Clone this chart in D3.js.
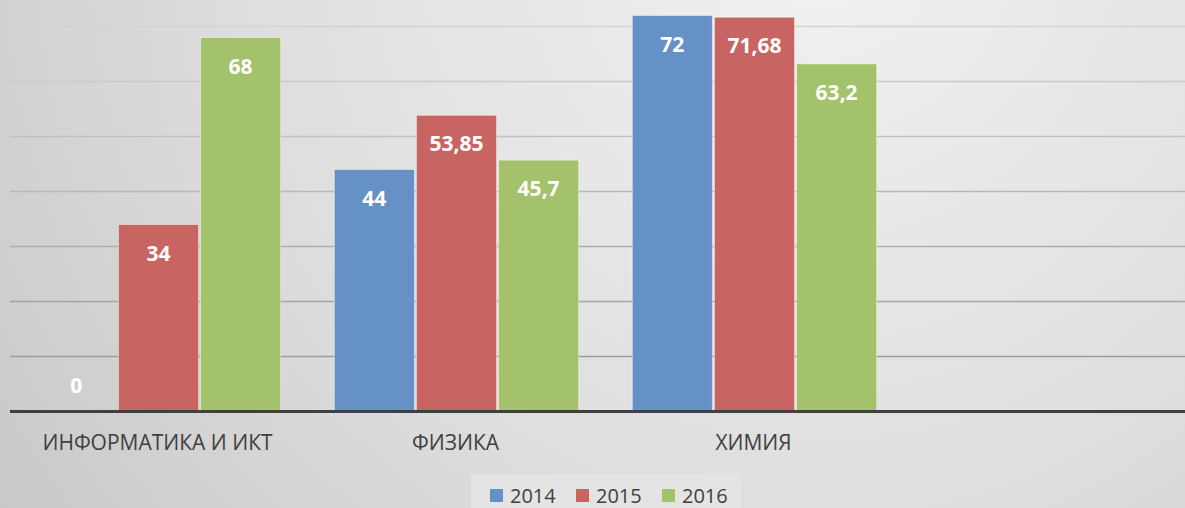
<!DOCTYPE html>
<html lang="ru">
<head>
<meta charset="UTF-8">
<title>Результаты 2014-2016</title>
<style>
  body { margin: 0; background: #d8d8d8; overflow: hidden; }
  svg { display: block; font-family: "Open Sans", Arial, sans-serif; }
</style>
<script src="https://d3js.org/d3.v7.min.js"></script>
</head>
<body>
<div id="chart"></div>
<script>
// data
const categories = ["ИНФОРМАТИКА И ИКТ", "ФИЗИКА", "ХИМИЯ", ""];
const years = ["2014", "2015", "2016"];
const values2014 = [0, 44, 72, null];
const values2015 = [34, 53.85, 71.68, null];
const values2016 = [68, 45.7, 63.2, null];
const gridTicks = [10, 20, 30, 40, 50, 60, 70];
const colors = ["#6591c7", "#c86462", "#a4c16b"];

const series = [values2014, values2015, values2016];
const W = 1185, H = 508;

const svg = d3.select("#chart").append("svg")
    .attr("width", W).attr("height", H);

// background
const defs = svg.append("defs");
const bg = defs.append("radialGradient")
    .attr("id", "bg").attr("gradientUnits", "userSpaceOnUse")
    .attr("cx", 820).attr("cy", -60).attr("r", 1050);
bg.append("stop").attr("offset", "0%").attr("stop-color", "#f2f2f2");
bg.append("stop").attr("offset", "55%").attr("stop-color", "#dedede");
bg.append("stop").attr("offset", "100%").attr("stop-color", "#c6c6c6");
svg.append("rect").attr("width", W).attr("height", H).attr("fill", "url(#bg)");

// scales
const x0 = d3.scaleBand().domain(d3.range(categories.length))
    .range([9.5, 1201.5]).paddingInner(0.18).paddingOuter(0.09);
const x1 = d3.scaleBand().domain(d3.range(years.length))
    .range([0, x0.bandwidth()]).paddingInner(0.025);
const y = d3.scaleLinear().domain([0, 80]).range([411.5, -28.5]);

// gridlines
const gridColor = d3.scaleLinear().domain([10, 70]).range(["#9c9c9c", "#d3d3d3"]);
svg.append("g").selectAll("line").data(gridTicks).join("line")
    .attr("x1", 10).attr("x2", W)
    .attr("y1", d => y(d)).attr("y2", d => y(d))
    .attr("stroke", d => gridColor(d)).attr("stroke-width", 1.5);

// bars
const groups = svg.append("g").selectAll("g")
    .data(categories.map((c, i) => i).filter(i => categories[i] !== ""))
    .join("g")
    .attr("transform", i => `translate(${x0(i)},0)`);

groups.selectAll("rect")
    .data(i => series.map((s, k) => ({ k, v: s[i] })))
    .join("rect")
    .attr("x", d => x1(d.k))
    .attr("width", x1.bandwidth())
    .attr("y", d => y(d.v))
    .attr("height", d => y(0) - y(d.v))
    .attr("fill", d => colors[d.k])
    .attr("stroke", "rgba(255,255,255,0.45)")
    .attr("stroke-width", 1);

groups.selectAll("text")
    .data(i => series.map((s, k) => ({ k, v: s[i] })))
    .join("text")
    .attr("x", d => x1(d.k) + x1.bandwidth() / 2)
    .attr("y", d => d.v === 0 ? y(0) - 19 : y(d.v) + 36)
    .attr("text-anchor", "middle")
    .attr("fill", "#fff")
    .attr("font-weight", "bold")
    .attr("font-size", 21)
    .text(d => String(d.v).replace(".", ","));

// baseline
svg.append("line")
    .attr("x1", 10).attr("x2", W)
    .attr("y1", y(0)).attr("y2", y(0))
    .attr("stroke", "#404040").attr("stroke-width", 3);

// category labels
svg.append("g").selectAll("text").data(categories).join("text")
    .attr("x", (d, i) => x0(i) + x0.bandwidth() / 2 - 1)
    .attr("y", 450)
    .attr("text-anchor", "middle")
    .attr("fill", "#404040")
    .attr("font-size", 21)
    .text(d => d);

// legend
svg.append("rect").attr("x", 471).attr("y", 474).attr("width", 270).attr("height", 40)
    .attr("fill", "#e4e4e4");
const leg = svg.append("g").selectAll("g").data(years).join("g")
    .attr("transform", (d, i) => `translate(${490 + i * 86},489)`);
leg.append("rect").attr("width", 13).attr("height", 13)
    .attr("fill", (d, i) => colors[i]);
leg.append("text").attr("x", 20).attr("y", 14)
    .attr("fill", "#404040").attr("font-size", 20)
    .text(d => d);
</script>
</body>
</html>
